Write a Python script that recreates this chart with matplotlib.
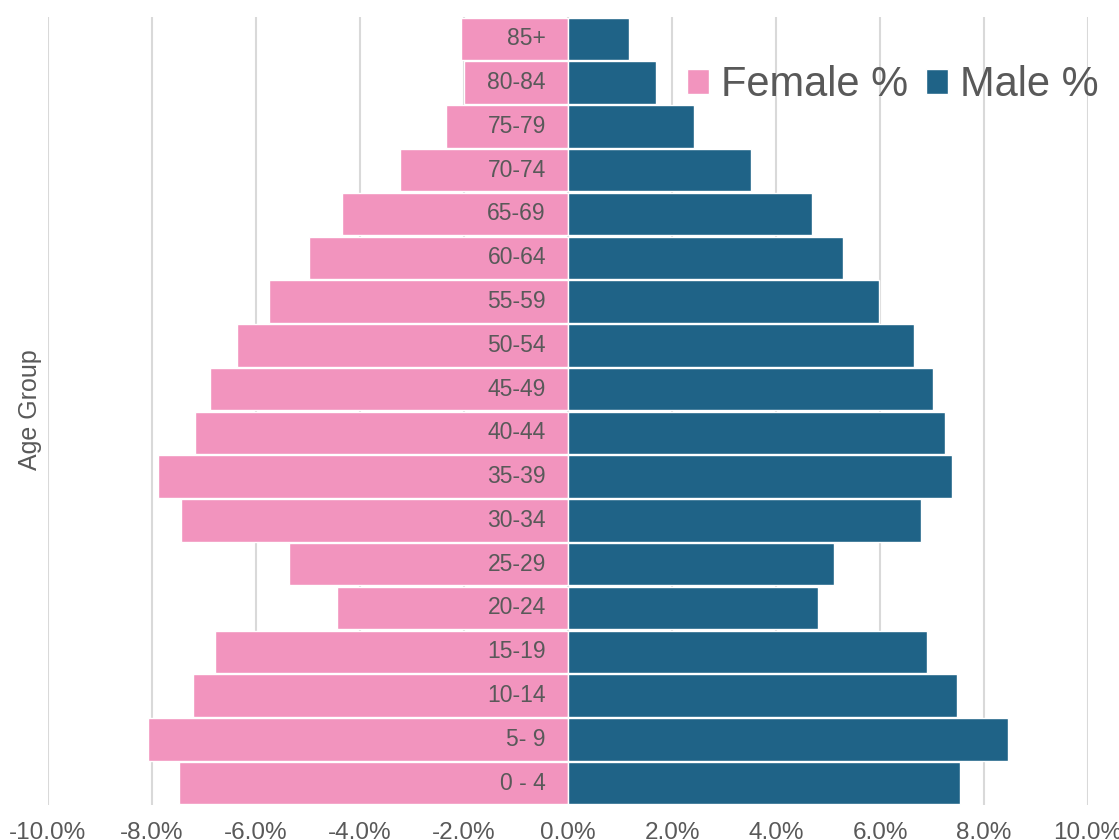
import matplotlib.pyplot as plt
import matplotlib.transforms as mtransforms
from matplotlib.ticker import FuncFormatter

plt.rcParams['font.family'] = ['Liberation Sans', 'DejaVu Sans']

# data (percent of population)
age_groups = ['0 - 4', '5- 9', '10-14', '15-19', '20-24', '25-29', '30-34', '35-39', '40-44',
              '45-49', '50-54', '55-59', '60-64', '65-69', '70-74', '75-79', '80-84', '85+']
female_pct = [7.48, 8.08, 7.21, 6.79, 4.44, 5.37, 7.44, 7.88, 7.17,
              6.88, 6.37, 5.75, 4.98, 4.35, 3.23, 2.35, 2.00, 2.06]
male_pct = [7.54, 8.46, 7.48, 6.90, 4.81, 5.12, 6.79, 7.38, 7.25,
            7.02, 6.65, 5.98, 5.29, 4.69, 3.52, 2.42, 1.69, 1.17]
x_ticks = [-10, -8, -6, -4, -2, 0, 2, 4, 6, 8, 10]

pink = '#F294BE'
blue = '#1F6387'
grey_text = '#595959'

fig = plt.figure(figsize=(11.19, 8.4), dpi=100)
ax = fig.add_axes([48 / 1119, 35 / 840, 1040 / 1119, 788 / 840])

y = range(len(age_groups))
ax.barh(y, [-v for v in female_pct], height=0.97, color=pink, edgecolor='white',
        linewidth=1, label='Female %', zorder=2)
ax.barh(y, male_pct, height=0.97, color=blue, edgecolor='white',
        linewidth=1, label='Male %', zorder=2)

# category labels just left of zero
offset = mtransforms.offset_copy(ax.transData, fig=fig, x=-22, y=0, units='dots')
for i, lab in enumerate(age_groups):
    ax.text(0, i, lab, transform=offset, ha='right', va='center',
            fontsize=16.5, color=grey_text, zorder=3)

ax.set_xlim(-10, 10)
ax.set_ylim(-0.5, len(age_groups) - 0.5)
ax.set_xticks(x_ticks)
ax.xaxis.set_major_formatter(FuncFormatter(lambda v, p: f'{v:.1f}%'))
ax.set_yticks([])
ax.tick_params(axis='x', length=0, pad=12, labelsize=17.5, labelcolor=grey_text)
ax.grid(axis='x', color='#D9D9D9', linewidth=1.5, zorder=0)
ax.set_axisbelow(True)
for s in ax.spines.values():
    s.set_visible(False)

fig.text(30 / 1119, 1 - 410 / 840, 'Age Group', rotation=90, ha='center', va='center',
         fontsize=18, color=grey_text)

leg = ax.legend(loc='center right', bbox_to_anchor=(1099 / 1119, 1 - 85 / 840),
                bbox_transform=fig.transFigure, ncol=2, frameon=False, fontsize=30,
                handlelength=0.53, handleheight=0.53, handletextpad=0.29,
                columnspacing=0.43, borderpad=0, borderaxespad=0)
for t in leg.get_texts():
    t.set_color(grey_text)

fig.savefig('out.png', dpi=100)
